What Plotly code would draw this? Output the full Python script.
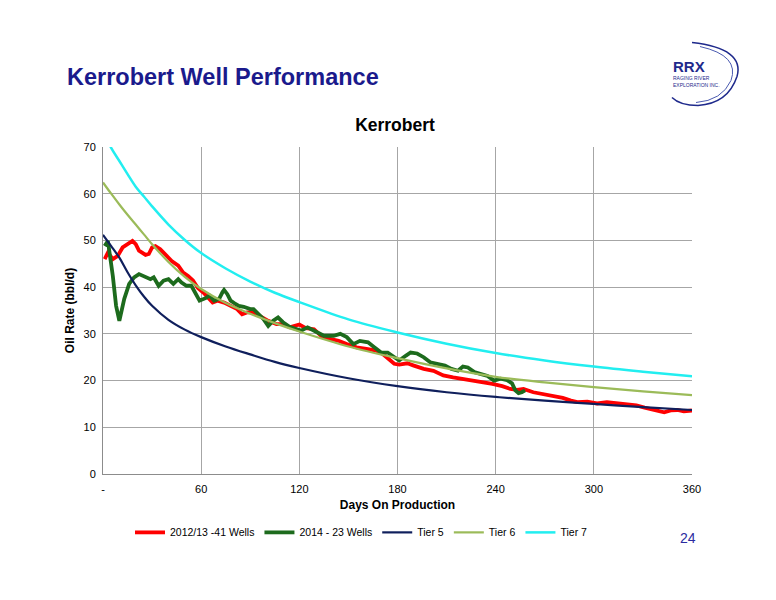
import plotly.graph_objects as go

# Data (days on production vs oil rate, bbl/d)
red_days = [1, 3, 6, 9, 12, 16, 18, 20, 22, 26, 28, 30, 32, 35, 38, 42, 46, 49, 52, 55,
            58, 62, 67, 70, 74, 78, 82, 85, 88, 92, 97, 101, 106, 110, 114, 120, 124, 129,
            134, 139, 144, 149, 155, 161, 167, 171, 175, 178, 181, 186, 190, 196, 202, 208,
            214, 220, 226, 232, 238, 244, 249, 253, 257, 263, 269, 275, 281, 286, 290, 296,
            302, 308, 314, 320, 326, 331, 337, 343, 347, 351, 355, 360]
red_rate = [46.0, 47.4, 46.0, 46.7, 48.5, 49.6, 49.9, 49.2, 47.8, 46.9, 47.1, 48.5, 48.8,
            48.1, 47.1, 45.6, 44.6, 43.1, 42.4, 41.4, 39.8, 38.6, 36.7, 37.1, 36.7, 36.0,
            35.3, 34.2, 34.6, 34.6, 33.5, 32.8, 32.1, 32.1, 31.4, 32.0, 31.2, 31.0, 29.3,
            28.9, 28.5, 27.8, 27.1, 26.8, 26.4, 25.7, 24.6, 23.6, 23.4, 23.7, 23.2, 22.5,
            22.1, 21.1, 20.7, 20.4, 20.0, 19.6, 19.3, 18.8, 18.2, 18.0, 18.2, 17.5, 17.1,
            16.8, 16.3, 15.7, 15.4, 15.5, 15.1, 15.4, 15.1, 14.9, 14.7, 14.2, 13.7, 13.2,
            13.6, 13.7, 13.4, 13.6]

green_days = [1, 3, 6, 8, 10, 11, 13, 16, 19, 22, 25, 29, 31, 34, 37, 40, 43, 46, 48, 51,
              54, 57, 59, 63, 65, 68, 71, 73, 74, 76, 78, 81, 83, 86, 90, 92, 95, 98, 101,
              104, 107, 110, 114, 119, 121, 125, 129, 135, 141, 145, 149, 153, 157, 162,
              166, 170, 174, 178, 181, 185, 188, 192, 196, 200, 205, 209, 213, 217, 220,
              223, 227, 231, 235, 239, 243, 247, 250, 252, 254, 256, 258]
green_rate = [48.8, 49.9, 42.4, 36.0, 32.8, 34.6, 37.5, 40.7, 42.1, 42.8, 42.4, 41.7, 42.1,
              40.3, 41.4, 41.7, 40.7, 41.7, 41.0, 40.3, 40.3, 38.2, 37.1, 37.7, 38.2, 37.1,
              37.5, 38.9, 39.4, 38.5, 37.1, 36.4, 36.0, 35.8, 35.3, 35.3, 34.2, 33.2, 31.7,
              32.8, 33.5, 32.5, 31.5, 31.0, 30.7, 31.4, 30.7, 29.6, 29.6, 30.0, 29.3, 27.8,
              28.5, 28.2, 27.1, 26.0, 26.0, 25.0, 24.3, 25.3, 26.0, 25.8, 25.0, 23.9, 23.6,
              23.2, 22.5, 22.1, 23.0, 22.8, 21.8, 21.4, 21.0, 20.0, 20.4, 20.1, 19.4, 17.9,
              17.3, 17.5, 17.9]

tier_days = [0, 5, 10, 15, 20, 25, 30, 40, 50, 60, 75, 90, 105, 120, 150, 180, 210, 240,
             270, 300, 330, 360]
tier5_rate = [51.2, 48.8, 46.3, 43.2, 40.4, 38.0, 36.0, 33.0, 30.9, 29.3, 27.3, 25.6, 24.0,
              22.7, 20.5, 18.8, 17.5, 16.5, 15.7, 15.0, 14.3, 13.7]
tier6_rate = [62.4, 60.0, 57.7, 55.5, 53.4, 51.3, 49.2, 45.4, 42.2, 39.6, 36.6, 34.3, 32.3,
              30.5, 27.3, 24.8, 22.6, 20.8, 19.6, 18.6, 17.7, 16.9]
tier7_rate = [73.5, 69.8, 67.0, 64.2, 61.5, 59.4, 57.3, 53.4, 50.1, 47.3, 44.0, 41.2, 38.8,
              36.8, 33.1, 30.3, 27.9, 25.9, 24.3, 23.0, 21.9, 20.9]

x_ticks = [0, 60, 120, 180, 240, 300, 360]
x_tick_labels = ['-', '60', '120', '180', '240', '300', '360']

# page body has an 8px margin, so the figure is drawn 8px in from the window corner
OFF = 8
W, H = 776 - OFF, 600 - OFF
# plot area in window pixels
L, R, T, B = 103, 692, 146.5, 473.6


def px(x, y):
    return (x - L) / (R - L), (B - y) / (B - T)


def path(points):
    out = []
    for cmd, pts in points:
        coords = ' '.join('%.4f,%.4f' % px(a, b) for a, b in pts)
        out.append(cmd + ' ' + coords)
    return ' '.join(out)


fig = go.Figure()
fig.add_trace(go.Scatter(x=red_days, y=red_rate, mode='lines', name='2012/13 -41 Wells',
                         line=dict(color='#ff0000', width=3.8)))
fig.add_trace(go.Scatter(x=green_days, y=green_rate, mode='lines', name='2014 - 23 Wells',
                         line=dict(color='#1d6b1d', width=3.8)))
fig.add_trace(go.Scatter(x=tier_days, y=tier5_rate, mode='lines', name='Tier 5',
                         line=dict(color='#0f1f5c', width=2.2, shape='spline')))
fig.add_trace(go.Scatter(x=tier_days, y=tier6_rate, mode='lines', name='Tier 6',
                         line=dict(color='#9bbb59', width=2.2, shape='spline')))
fig.add_trace(go.Scatter(x=tier_days, y=tier7_rate, mode='lines', name='Tier 7',
                         line=dict(color='#22eef0', width=2.5, shape='spline')))

tick_font = dict(family='Arial, Liberation Sans', size=11, color='#000000')
title_font = dict(family='Arial, Liberation Sans', size=12, color='#000000')
fig.update_layout(
    width=W, height=H,
    paper_bgcolor='white', plot_bgcolor='white',
    margin=dict(l=L - OFF, r=776 - R, t=T - OFF, b=600 - B),
    font=dict(family='Arial, Liberation Sans', color='#000000'),
    title=dict(text='<b>Kerrobert</b>', x=(395 - OFF) / W, xanchor='center',
               y=1 - (125 - OFF) / H, yanchor='middle',
               font=dict(size=17.5, color='#000000')),
    xaxis=dict(range=[0, 360], tickvals=x_ticks, ticktext=x_tick_labels,
               showgrid=True, gridcolor='#a6a6a6', gridwidth=1,
               showline=True, linecolor='#8c8c8c', mirror=False,
               ticks='', tickfont=tick_font, zeroline=False, ticklabelstandoff=5,
               title=dict(text='<b>Days On Production</b>', font=title_font, standoff=6)),
    yaxis=dict(range=[0, 70], dtick=10, showgrid=True, gridcolor='#a6a6a6', gridwidth=1,
               showline=True, linecolor='#8c8c8c', ticks='', tickfont=tick_font,
               zeroline=False, ticklabelstandoff=4,
               title=dict(text='<b>Oil Rate (bbl/d)</b>', font=title_font, standoff=6)),
    legend=dict(orientation='h', x=px(130, 0)[0], xanchor='left', y=px(0, 532)[1],
                yanchor='middle', font=dict(size=10.5), itemwidth=30,
                tracegroupgap=0, bgcolor='rgba(0,0,0,0)'),
    showlegend=True,
)

# slide decorations: heading, page number and the RRX logo
fig.add_annotation(text='<b>Kerrobert Well Performance</b>', xref='paper', yref='paper',
                   x=px(65, 0)[0], y=px(0, 76)[1], xanchor='left', yanchor='middle',
                   showarrow=False, font=dict(size=23.5, color='#1a1a8c'))
fig.add_annotation(text='24', xref='paper', yref='paper', x=px(688, 0)[0], y=px(0, 538)[1],
                   xanchor='center', yanchor='middle', showarrow=False,
                   font=dict(size=14, color='#2b2ba0'))
fig.add_annotation(text='<b>RRX</b>', xref='paper', yref='paper', x=px(689, 0)[0],
                   y=px(0, 66)[1], xanchor='center', yanchor='middle', showarrow=False,
                   font=dict(size=15, color='#1f2a8c'))
fig.add_annotation(text='RAGING RIVER<br>EXPLORATION INC.', xref='paper', yref='paper',
                   x=px(671, 0)[0], y=px(0, 81)[1], xanchor='left', yanchor='middle',
                   showarrow=False, align='left',
                   font=dict(size=5, color='#1f2a8c'))
fig.add_shape(type='path', xref='paper', yref='paper',
              path=path([('M', [(692, 42)]), ('Q', [(745, 48), (737, 76)]),
                         ('Q', [(728, 103), (698, 105)]), ('Q', [(680, 105), (672, 97)])]),
              line=dict(color='#1f2a8c', width=1.5))
fig.add_shape(type='path', xref='paper', yref='paper',
              path=path([('M', [(700, 46)]), ('Q', [(740, 55), (731, 80)]),
                         ('Q', [(722, 100), (696, 102)])]),
              line=dict(color='#4a5ab0', width=1))

fig.write_html('out.html')
